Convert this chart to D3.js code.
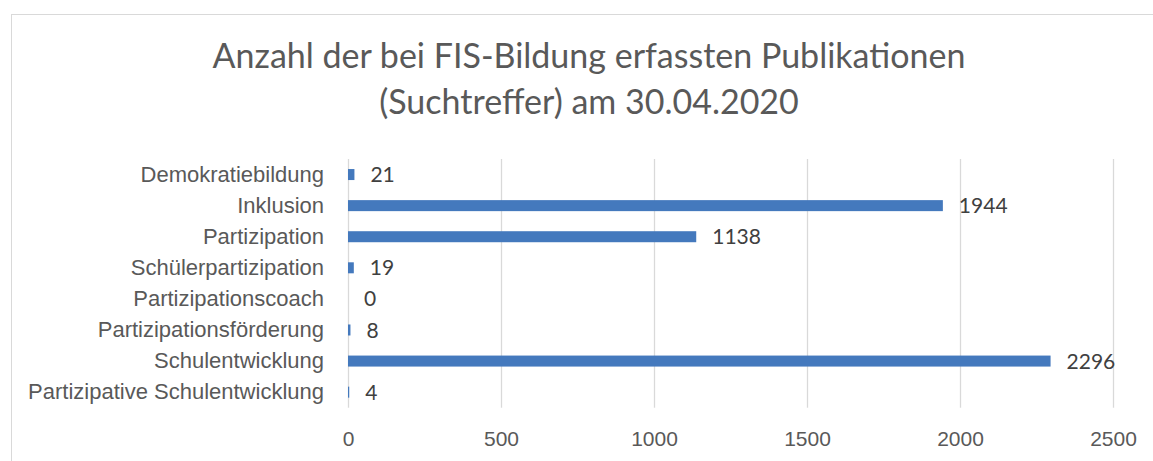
<!DOCTYPE html>
<html>
<head>
<meta charset="utf-8">
<script src="https://cdn.jsdelivr.net/npm/d3@7"></script>
<style>
  html, body { margin: 0; padding: 0; background: #fff; }
  svg { display: block; font-family: Lato, "Open Sans", sans-serif; }
</style>
</head>
<body>
<svg id="chart" width="1153" height="461"></svg>
<script>
const categories = [
  "Demokratiebildung",
  "Inklusion",
  "Partizipation",
  "Schülerpartizipation",
  "Partizipationscoach",
  "Partizipationsförderung",
  "Schulentwicklung",
  "Partizipative Schulentwicklung"
];
const values = [21, 1944, 1138, 19, 0, 8, 2296, 4];
const xTicks = [0, 500, 1000, 1500, 2000, 2500];
const titleLines = [
  "Anzahl der bei FIS-Bildung erfassten Publikationen",
  "(Suchtreffer) am 30.04.2020"
];

const svg = d3.select("#chart");

// chart border
svg.append("rect")
  .attr("x", 11.5).attr("y", 14.5)
  .attr("width", 1160).attr("height", 470)
  .attr("fill", "#fff")
  .attr("stroke", "#d9d9d9")
  .attr("stroke-width", 1);

const plot = { left: 348, right: 1113, top: 159, bottom: 407.7 };

const x = d3.scaleLinear().domain([0, 2500]).range([plot.left, plot.right]);
const y = d3.scaleBand().domain(categories)
  .range([plot.top, plot.bottom])
  .paddingInner(0.646).paddingOuter(0.323);

// title
svg.append("text")
  .attr("x", 589).attr("y", 68)
  .attr("text-anchor", "middle")
  .attr("fill", "#595959")
  .style("font-size", "34px")
  .style("font-weight", 400)
  .selectAll("tspan")
  .data(titleLines)
  .join("tspan")
  .attr("x", 589)
  .attr("dy", (d, i) => i === 0 ? 0 : 46)
  .text(d => d);

// gridlines
const grid = svg.append("g").attr("transform", `translate(0,${plot.bottom})`)
  .call(d3.axisBottom(x).tickValues(xTicks).tickSize(-(plot.bottom - plot.top)).tickFormat(""));
grid.select(".domain").remove();
grid.selectAll(".tick line").attr("stroke", "#d9d9d9").attr("stroke-width", 1.3);

// x tick labels
const xAxis = svg.append("g").attr("transform", `translate(0,${plot.bottom})`)
  .call(d3.axisBottom(x).tickValues(xTicks).tickSize(0).tickPadding(23).tickFormat(d3.format("d")));
xAxis.select(".domain").remove();
xAxis.selectAll("text")
  .attr("fill", "#595959")
  .attr("font-family", null)
  .attr("font-size", null)
  .style("font-size", "21px");

// y axis labels
const yAxis = svg.append("g").attr("transform", `translate(${plot.left},0)`)
  .call(d3.axisLeft(y).tickSize(0).tickPadding(24));
yAxis.select(".domain").remove();
yAxis.selectAll("text")
  .attr("fill", "#595959")
  .attr("font-family", null)
  .attr("font-size", null)
  .style("font-size", "22px");

// bars
svg.append("g").selectAll("rect")
  .data(values)
  .join("rect")
  .attr("x", x(0))
  .attr("y", (d, i) => y(categories[i]))
  .attr("width", d => x(d) - x(0))
  .attr("height", y.bandwidth())
  .attr("fill", "#4479BD");

// data labels
svg.append("g").selectAll("text")
  .data(values)
  .join("text")
  .attr("x", d => x(d) + 16)
  .attr("y", (d, i) => y(categories[i]) + y.bandwidth() / 2)
  .attr("dy", "0.36em")
  .attr("fill", "#404040")
  .style("font-size", "21px")
  .text(d => d);
</script>
</body>
</html>
